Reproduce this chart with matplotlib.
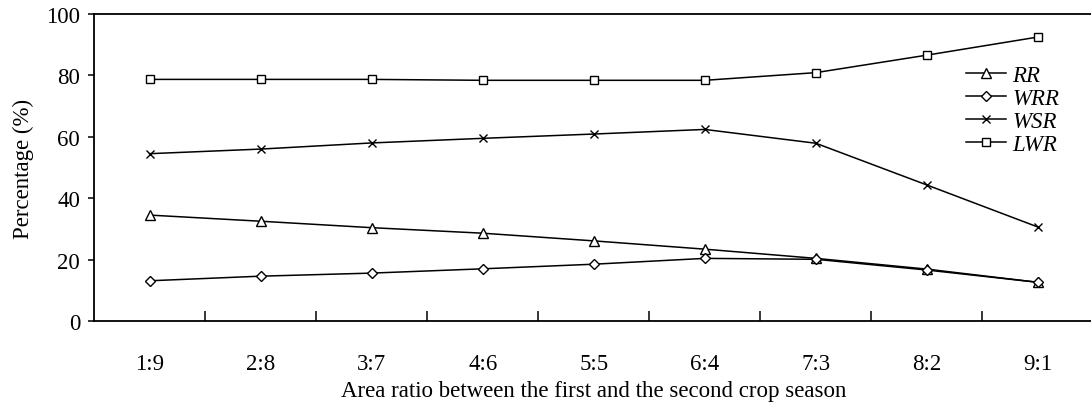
import numpy as np
import matplotlib
matplotlib.use("Agg")
import matplotlib.pyplot as plt
from matplotlib.ticker import FixedLocator

plt.rcParams["font.family"] = ["Liberation Serif", "DejaVu Serif"]

ratios = ["1:9", "2:8", "3:7", "4:6", "5:5", "6:4", "7:3", "8:2", "9:1"]
rr = [34.5, 32.5, 30.4, 28.6, 26.1, 23.4, 20.4, 16.9, 12.6]
wrr = [13.1, 14.6, 15.6, 17.0, 18.5, 20.4, 20.1, 16.6, 12.6]
wsr = [54.5, 56.0, 58.0, 59.5, 60.9, 62.4, 57.9, 44.3, 30.6]
lwr = [78.7, 78.7, 78.7, 78.4, 78.4, 78.4, 80.9, 86.6, 92.5]

fig = plt.figure(figsize=(10.91, 4.06), dpi=100)
ax = fig.add_axes([94 / 1091, 1 - 322 / 406, (1093.5 - 94) / 1091, (322 - 15) / 406])

x = np.arange(len(ratios))
style = dict(color="black", lw=1.1, markerfacecolor="white", markeredgecolor="black",
             markeredgewidth=1.0)
ax.plot(x, rr, marker="^", markersize=7, label="RR", **style)
ax.plot(x, wrr, marker="D", markersize=5, label="WRR", **style)
ax.plot(x, wsr, marker="x", markersize=6, label="WSR", **style)
ax.plot(x, lwr, marker="s", markersize=6, label="LWR", **style)

ax.set_xlim(-0.5, 8.5)
ax.set_ylim(0, 100)
ax.set_yticks([0, 20, 40, 60, 80, 100])
ax.set_xticks(x)
ax.set_xticklabels(ratios)
ax.xaxis.set_minor_locator(FixedLocator(np.arange(0.5, 8.5, 1)))
ax.tick_params(axis="x", which="major", length=0, pad=23, labelsize=16.5)
ax.tick_params(axis="x", which="minor", direction="in", length=7, width=1.1)
ax.tick_params(axis="y", which="major", direction="out", length=4, width=1.1, pad=6, labelsize=16.5)

for s in ["left", "bottom", "top"]:
    ax.spines[s].set_linewidth(1.3)
ax.spines["right"].set_visible(False)

ax.set_xlabel("Area ratio between the first and the second crop season", fontsize=16.5, labelpad=4)
ax.set_ylabel("Percentage (%)", fontsize=16.5, labelpad=9)

ax.legend(loc="upper left", bbox_to_anchor=(0.872, 0.834), frameon=False,
          prop={"style": "italic", "size": 16.5}, handlelength=1.75, handletextpad=0.3,
          labelspacing=0.09, borderaxespad=0, borderpad=0)

fig.savefig("out.png", dpi=100)
